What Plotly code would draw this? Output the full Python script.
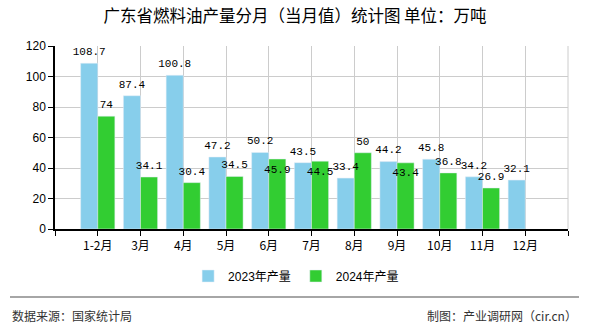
import plotly.graph_objects as go

categories = ["1-2月", "3月", "4月", "5月", "6月", "7月", "8月", "9月", "10月", "11月", "12月"]
values_2023 = [108.7, 87.4, 100.8, 47.2, 50.2, 43.5, 33.4, 44.2, 45.8, 34.2, 32.1]
values_2024 = [74, 34.1, 30.4, 34.5, 45.9, 44.5, 50, 43.4, 36.8, 26.9, None]
label_pos_2024 = ["top center", "top center", "top center", "top center", "bottom center", "bottom center",
                  "top center", "bottom center", "top center", "top center", "top center"]

x_pos = list(range(1, len(categories) + 1))
BAR_W = 0.4

def fmt(v):
    return "" if v is None else f"{v:g}"

W, H = 590, 330
L, R, T, B = 55, 22, 46, 101
pw, ph = W - L - R, H - T - B

def px_x(x):
    return (x - L) / pw

def px_y(y):
    return (H - B - y) / ph

label_font = dict(family="Liberation Mono, DejaVu Sans Mono, monospace", size=11, color="#000")
ghost = dict(size=7, opacity=0, color="rgba(0,0,0,0)")

fig = go.Figure()
fig.add_trace(go.Bar(
    x=x_pos, y=values_2023, name="2023年产量", marker_color="#87CEEB",
    width=BAR_W, offset=-BAR_W,
))
fig.add_trace(go.Bar(
    x=x_pos, y=values_2024, name="2024年产量", marker_color="#32CD32",
    width=BAR_W, offset=0.0,
))
# value labels (drawn above all bars)
fig.add_trace(go.Scatter(
    x=[x - BAR_W / 2 for x in x_pos], y=values_2023, mode="text+markers", marker=ghost,
    text=[fmt(v) for v in values_2023], textposition="top center",
    textfont=label_font, showlegend=False, hoverinfo="skip", cliponaxis=False,
))
fig.add_trace(go.Scatter(
    x=[x + BAR_W / 2 for x in x_pos], y=values_2024, mode="text+markers", marker=ghost,
    text=[fmt(v) for v in values_2024], textposition=label_pos_2024,
    textfont=label_font, showlegend=False, hoverinfo="skip", cliponaxis=False,
))

tickvals = list(range(0, len(categories) + 2))
ticktext = [""] + categories + [""]

fig.update_layout(
    width=W, height=H,
    margin=dict(l=L, r=R, t=T, b=B, pad=0),
    paper_bgcolor="white", plot_bgcolor="white",
    font=dict(family="Noto Sans CJK SC, sans-serif", size=12, color="#000"),
    title=dict(text="广东省燃料油产量分月（当月值）统计图 单位：万吨",
               x=0.5, xanchor="center", xref="container",
               y=1 - 16 / H, yanchor="middle", yref="container",
               font=dict(family="Noto Sans CJK SC, sans-serif", size=16.5, color="#000")),
    barmode="overlay",
    showlegend=True,
    legend=dict(orientation="h", x=0.47, xanchor="center", y=px_y(276), yanchor="middle",
                font=dict(family="Liberation Sans, Noto Sans CJK SC, sans-serif", size=12, color="#000"),
                itemwidth=30, traceorder="normal", tracegroupgap=0),
    xaxis=dict(range=[0, len(categories) + 1], tickmode="array", tickvals=tickvals, ticktext=ticktext,
               showgrid=True, gridcolor="#cccccc", gridwidth=1,
               showline=True, linecolor="#000", linewidth=1.5,
               ticks="outside", ticklen=5, tickcolor="#000",
               tickfont=dict(family="Noto Sans CJK SC, sans-serif", size=12, color="#000"),
               zeroline=False, fixedrange=True),
    yaxis=dict(range=[0, 120], dtick=20, showgrid=True, gridcolor="#cccccc", gridwidth=1,
               showline=True, linecolor="#000", linewidth=1.5,
               ticks="outside", ticklen=5, tickcolor="#000",
               tickfont=dict(family="Liberation Sans, sans-serif", size=12, color="#000"),
               zeroline=False, fixedrange=True),
)

# right border of plot area
fig.add_shape(type="line", xref="paper", yref="paper", x0=1, x1=1, y0=0, y1=1,
              line=dict(color="#cccccc", width=1))

# footer separator line
fig.add_shape(type="line", xref="paper", yref="paper",
              x0=px_x(10), x1=px_x(579), y0=px_y(297), y1=px_y(297),
              line=dict(color="#888888", width=1.5))

fig.add_annotation(text="数据来源：国家统计局", xref="paper", yref="paper",
                   x=px_x(10), y=px_y(315), xanchor="left", yanchor="middle",
                   showarrow=False, font=dict(family="Noto Sans CJK SC, sans-serif", size=12, color="#333"))
fig.add_annotation(text="制图：产业调研网（cir.cn）", xref="paper", yref="paper",
                   x=px_x(579), y=px_y(315), xanchor="right", yanchor="middle",
                   showarrow=False, font=dict(family="Noto Sans CJK SC, sans-serif", size=12, color="#333"))

fig.write_html("out.html")
